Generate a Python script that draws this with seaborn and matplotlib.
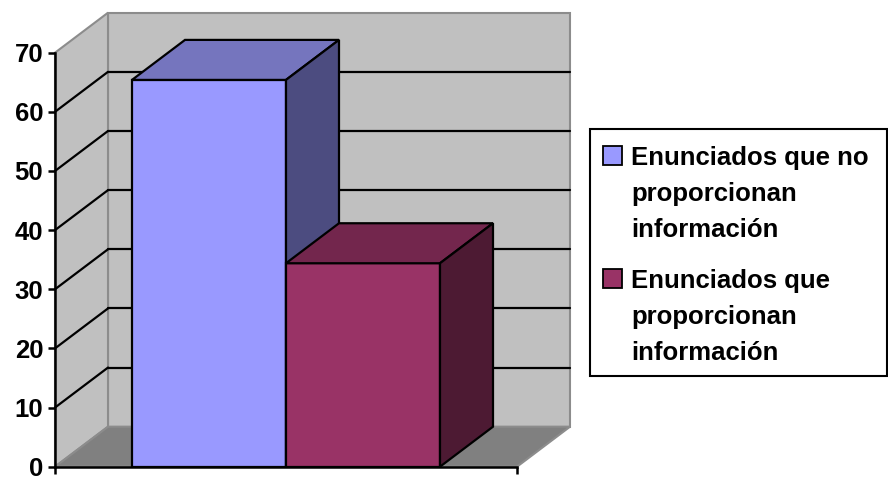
import matplotlib
matplotlib.use("Agg")
import matplotlib.pyplot as plt
from matplotlib.patches import Polygon, Rectangle
import seaborn as sns
import pandas as pd

# ---- data ----
grupo = ["Enunciados", "Enunciados"]
series = ["Enunciados que no\nproporcionan\ninformación",
          "Enunciados que\nproporcionan\ninformación"]
valores = [65.4, 34.4]
yticks = [0, 10, 20, 30, 40, 50, 60, 70]

front_cols = ["#9999FF", "#993366"]
top_cols = ["#7575BE", "#73264D"]
side_cols = ["#4C4C80", "#4D1A33"]

sns.set_style("white")
plt.rcParams["font.family"] = ["Liberation Sans", "DejaVu Sans"]
plt.rcParams["text.color"] = "black"
plt.rcParams["ytick.color"] = "black"
plt.rcParams["xtick.color"] = "black"

fig = plt.figure(figsize=(8.88, 4.78), dpi=100)
W, H = 888, 478
ax = fig.add_axes([55 / W, 11.3 / H, 462 / W, 414 / H])

df = pd.DataFrame({"grupo": grupo, "serie": series, "valor": valores})
sns.barplot(data=df, x="grupo", y="valor", hue="serie", hue_order=series,
            palette=front_cols, width=0.8, saturation=1, legend=False,
            edgecolor="black", linewidth=1.6, ax=ax)
bars = [p for p in ax.patches if isinstance(p, Rectangle) and p.get_height() > 0]
bars = sorted(bars, key=lambda p: p.get_x())

x0, x1 = -0.6, 0.6
ymax = 70
ax.set_xlim(x0, x1)
ax.set_ylim(0, ymax)

# depth offsets (in data units)
dx = 53 / (462 / (x1 - x0))
dy = 40 / (414 / ymax)

wall = "#C0C0C0"
floor = "#808080"
edge = "#8C8C8C"

# back wall
ax.add_patch(Polygon([(x0 + dx, dy), (x1 + dx, dy), (x1 + dx, ymax + dy), (x0 + dx, ymax + dy)],
                     closed=True, facecolor=wall, edgecolor=edge, lw=1.5, zorder=0.1, clip_on=False))
# side wall
ax.add_patch(Polygon([(x0, 0), (x0 + dx, dy), (x0 + dx, ymax + dy), (x0, ymax)],
                     closed=True, facecolor=wall, edgecolor=edge, lw=1.5, zorder=0.1, clip_on=False))
# floor
ax.add_patch(Polygon([(x0, 0), (x1, 0), (x1 + dx, dy), (x0 + dx, dy)],
                     closed=True, facecolor=floor, edgecolor=edge, lw=1.5, zorder=0.2, clip_on=False))

# gridlines
for v in yticks[1:-1]:
    ax.plot([x0 + dx, x1 + dx], [v + dy, v + dy], color="black", lw=1.6, zorder=0.5, clip_on=False)
    ax.plot([x0, x0 + dx], [v, v + dy], color="black", lw=1.6, zorder=0.5, clip_on=False)

# 3D bar faces
for i, p in enumerate(bars):
    l = p.get_x()
    r = l + p.get_width()
    v = p.get_height()
    z = 2 + i
    p.set_zorder(z)
    ax.add_patch(Polygon([(l, v), (r, v), (r + dx, v + dy), (l + dx, v + dy)], closed=True,
                         facecolor=top_cols[i], edgecolor="black", lw=1.6, zorder=z, clip_on=False))
    ax.add_patch(Polygon([(r, 0), (r + dx, dy), (r + dx, v + dy), (r, v)], closed=True,
                         facecolor=side_cols[i], edgecolor="black", lw=1.6, zorder=z, clip_on=False))

# axes styling
for s in ["top", "right"]:
    ax.spines[s].set_visible(False)
for s in ["left", "bottom"]:
    ax.spines[s].set_color("black")
    ax.spines[s].set_linewidth(1.8)
    ax.spines[s].set_zorder(6)
ax.set_facecolor("none")
ax.set_yticks(yticks)
ax.set_yticklabels([str(t) for t in yticks], fontsize=18.5, fontweight="bold", color="black")
ax.set_xticks([x0, x1])
ax.set_xticklabels(["", ""])
ax.tick_params(axis="both", direction="out", length=5, width=1.8, color="black", pad=3.5,
               left=True, bottom=True)
ax.set_xlabel("")
ax.set_ylabel("")

# legend (drawn box, swatches and lines of text)
def fx(px):
    return px / W

def fy(py):
    return 1 - py / H

fig.patches.append(Rectangle((fx(590), fy(376)), fx(887) - fx(590), fy(129) - fy(376),
                             transform=fig.transFigure, facecolor="white", edgecolor="black",
                             lw=1.5, zorder=1))
entry_top = [146, 269]
line_pitch = 36
for i, lab in enumerate(series):
    top = entry_top[i]
    fig.patches.append(Rectangle((fx(603), fy(top + 19)), fx(19), 19 / H,
                                 transform=fig.transFigure, facecolor=front_cols[i],
                                 edgecolor="black", lw=1.3, zorder=2))
    for j, line in enumerate(lab.split("\n")):
        fig.text(fx(631), fy(top + 19 + j * line_pitch), line, fontsize=18.5, fontweight="bold",
                 color="black", ha="left", va="baseline", zorder=3)

fig.savefig("out.png", dpi=100)
